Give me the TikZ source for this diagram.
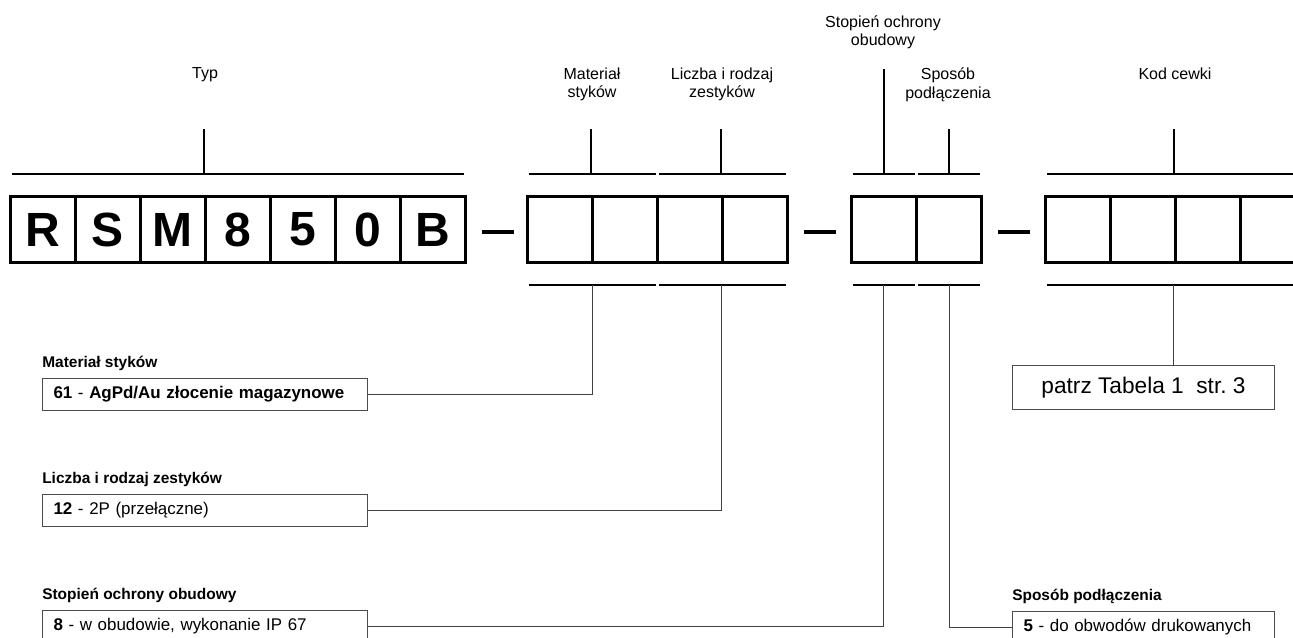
\documentclass[tikz,border=0pt]{standalone}
\usepackage{fontspec}
\setmainfont{Liberation Sans}
\usetikzlibrary{calc}
\frenchspacing
\tikzset{
  cell/.style={draw, line width=2.25pt, minimum width=48.75pt, minimum height=49.5pt, inner sep=0pt,
    font=\fontsize{36}{36}\selectfont\bfseries},
  brack/.style={line width=1.5pt},
  dashbar/.style={line width=3pt},
  toplab/.style={anchor=north, inner sep=0pt, align=center, font=\fontsize{12}{13.9}\selectfont},
  boxtitle/.style={anchor=base west, inner sep=0pt, font=\fontsize{11.6}{13}\selectfont\bfseries},
  infobox/.style={draw=black!70, line width=0.75pt, anchor=north west, minimum height=24pt,
    text width=227.25pt, inner xsep=8.25pt, align=left, font=\fontsize{12.7}{14}\selectfont},
  conn/.style={draw=black!75, line width=0.75pt},
}

\begin{document}
\begin{tikzpicture}[x=0.75pt, y=-0.75pt]
		%%%%% START %%%%%
		\path[use as bounding box] (0,0) rectangle (1293,637);
		\clip (0,0) rectangle (1293,637);
		
		% code cells
		\foreach \t [count=\i] in {R,S,M,8,5,0,B}
			\node[cell] (c\i) at ({42.5+65*(\i-1)}, 229.5) {\t};
		\foreach \i in {1,...,4}
			\node[cell] (z\i) at ({559.6+65.25*(\i-1)}, 229.5) {};
		\foreach \i in {1,2}
			\node[cell] (o\i) at ({883.75+65.5*(\i-1)}, 229.5) {};
		\foreach \i in {1,...,4}
			\node[cell] (k\i) at ({1077.5+65*(\i-1)}, 229.5) {};
		
		% dashes between groups
		\foreach \g in {c7, z4, o2}
			\draw[dashbar] ([shift={(15,2.5)}]\g.east) -- ++(32,0);
		
		% brackets above and below
		\foreach \a/\b in {c1/c7, z1/z2, z3/z4, o1/o1, o2/o2, k1/k4}
			\draw[brack] ([shift={(3,-21.5)}]\a.north west) -- ([shift={(-3,-21.5)}]\b.north east);
		\foreach \a/\b in {z1/z2, z3/z4, o1/o1, o2/o2, k1/k4}
			\draw[brack] ([shift={(3,20.5)}]\a.south west) -- ([shift={(-3,20.5)}]\b.south east);
		
		% ticks up to the labels
		\draw[brack] ([shift={(0,-21.5)}]c4.north west) -- ++(0,-45);
		\draw[brack] ([shift={(0,-21.5)}]z2.north west) -- ++(0,-45);
		\draw[brack] ([shift={(0,-21.5)}]z4.north west) -- ++(0,-45);
		\draw[brack] ([shift={(0,-21.5)}]o1.north) -- ++(0,-105);
		\draw[brack] ([shift={(0,-21.5)}]o2.north) -- ++(0,-45);
		\draw[brack] ([shift={(0,-21.5)}]k3.north west) -- ++(0,-45);
		
		\node[toplab] (typ) at (205, 67.5) {Typ};
		\node[toplab] (mat) at (592, 67.5) {Materiał\\styków};
		\node[toplab] (zes) at (722, 67.5) {Liczba i rodzaj\\zestyków};
		\node[toplab] (obu) at (883, 15) {Stopień ochrony\\obudowy};
		\node[toplab] (pod) at (948, 67.5) {Sposób\\podłączenia};
		\node[toplab] (kod) at (1175, 67.5) {Kod cewki};
		
		% boxes below
		\node[infobox] (matbox) at (42, 378) {\textbf{61} - \textbf{AgPd/Au złocenie magazynowe}};
		\node[infobox] (zesbox) at (42, 494) {\textbf{12} - 2P (przełączne)};
		\node[infobox] (obubox) at (42, 610) {\textbf{8} - w obudowie, wykonanie IP 67};
		\node[infobox, text width=180pt] (podbox) at (1012, 611) {\textbf{5} - do obwodów drukowanych};
		\node[draw=black!70, line width=0.75pt, anchor=north west, minimum width=196.5pt, minimum height=33pt,
			inner sep=0pt, font=\fontsize{17}{18}\selectfont] (kodbox) at (1012, 365) {patrz Tabela 1\ \ str. 3};
		
		\node[boxtitle] (mattitle) at ($(matbox.north west)+(0,-11)$) {Materiał styków};
		\node[boxtitle] (zestitle) at ($(zesbox.north west)+(0,-11)$) {Liczba i rodzaj zestyków};
		\node[boxtitle] (obutitle) at ($(obubox.north west)+(0,-11)$) {Stopień ochrony obudowy};
		\node[boxtitle] (podtitle) at ($(podbox.north west)+(0,-11)$) {Sposób podłączenia};
		
		% connectors
		\coordinate (matend) at ([shift={(2,20.5)}]z2.south west);
		\coordinate (zesend) at ([shift={(0,20.5)}]z4.south west);
		\coordinate (obuend) at ([shift={(0,20.5)}]o1.south);
		\coordinate (podend) at ([shift={(0,20.5)}]o2.south);
		\coordinate (kodend) at ([shift={(0,20.5)}]k3.south west);
		
		\draw[conn] (matend) |- (matbox.east);
		\draw[conn] (zesend) |- (zesbox.east);
		\draw[conn] (obuend) |- (obubox.east);
		\draw[conn] (podend) |- (podbox.west);
		\draw[conn] (kodend) -- (kodend |- kodbox.north);
		
		%%%%% END %%%%%
	\end{tikzpicture}
\end{document}
